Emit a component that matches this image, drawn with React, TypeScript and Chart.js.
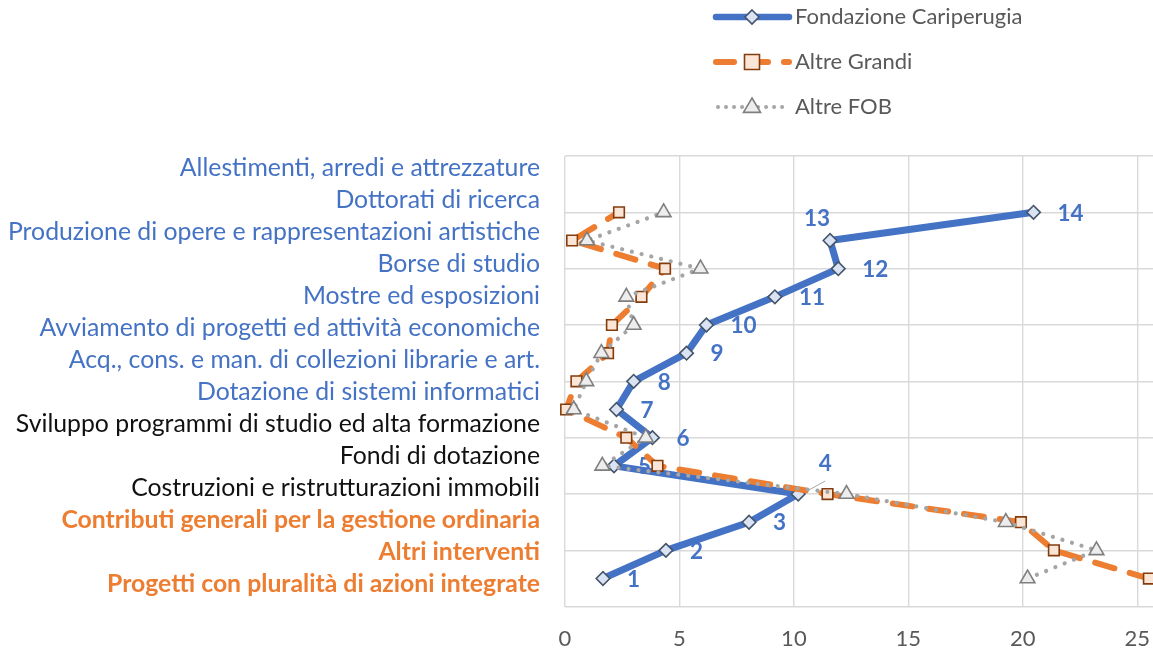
import React, { useEffect, useRef } from "react";
import { Chart, registerables } from "chart.js";

Chart.register(...registerables);

// Rank positions on the vertical axis (1 = bottom, 14 = top)
const ranks = [1, 2, 3, 4, 5, 6, 7, 8, 9, 10, 11, 12, 13, 14];

// Intervention categories, listed from rank 1 upward
const categories = [
  "Progetti con pluralità di azioni integrate",
  "Altri interventi",
  "Contributi generali per la gestione ordinaria",
  "Costruzioni e ristrutturazioni immobili",
  "Fondi di dotazione",
  "Sviluppo programmi di studio ed alta formazione",
  "Dotazione di sistemi informatici",
  "Acq., cons. e man. di collezioni librarie e art.",
  "Avviamento di progetti ed attività economiche",
  "Mostre ed esposizioni",
  "Borse di studio",
  "Produzione di opere e rappresentazioni artistiche",
  "Dottorati di ricerca",
  "Allestimenti, arredi e attrezzature",
];

// Share of resources (%) per category, same order as categories
const cariperugia = [1.66, 4.41, 8.04, 10.19, 2.14, 3.82, 2.25, 3.0, 5.31, 6.18, 9.17, 11.94, 11.58, 20.47];
const altreGrandi = [25.51, 21.36, 19.92, 11.47, 4.04, 2.68, 0.05, 0.5, 1.88, 2.05, 3.34, 4.37, 0.31, 2.36];
const altreFob = [20.21, 23.22, 19.26, 12.3, 1.63, 3.53, 0.38, 0.93, 1.59, 3.0, 2.68, 5.92, 0.96, 4.31];

const seriesNames = ["Fondazione Cariperugia", "Altre Grandi", "Altre FOB"];
const xTicks = [0, 5, 10, 15, 20, 25];

const BLUE = "#4472C4";
const ORANGE = "#ED7D31";
const GRAY = "#A5A5A5";
const FONT = "Lato, Calibri, 'Open Sans', sans-serif";

// Text colour of each category line in the side list (rank 1 upward)
const categoryStyle = (i: number) =>
  i < 3 ? { color: ORANGE, weight: "bold" } : i < 6 ? { color: "#111111", weight: "normal" } : { color: BLUE, weight: "normal" };

type Marker = "diamond" | "square" | "triangle";

function drawMarker(ctx: CanvasRenderingContext2D, kind: Marker, x: number, y: number) {
  ctx.save();
  ctx.beginPath();
  ctx.setLineDash([]);
  if (kind === "diamond") {
    const r = 7;
    ctx.moveTo(x, y - r);
    ctx.lineTo(x + r, y);
    ctx.lineTo(x, y + r);
    ctx.lineTo(x - r, y);
    ctx.closePath();
    ctx.fillStyle = "#DAE3F3";
    ctx.strokeStyle = "#44546A";
  } else if (kind === "square") {
    const h = 7.5;
    ctx.rect(x - h, y - h, 2 * h, 2 * h);
    ctx.fillStyle = "#FBE5D6";
    ctx.strokeStyle = "#843C0C";
  } else {
    const r = 9;
    ctx.moveTo(x, y - r);
    ctx.lineTo(x + r * 0.95, y + r * 0.6);
    ctx.lineTo(x - r * 0.95, y + r * 0.6);
    ctx.closePath();
    ctx.fillStyle = "#EDEDED";
    ctx.strokeStyle = "#7F7F7F";
  }
  ctx.lineWidth = 1.6;
  ctx.fill();
  ctx.stroke();
  ctx.restore();
}

// Rank numbers beside the Cariperugia points, drawn under the other two series
const rankLabelPlugin = {
  id: "rankLabels",
  afterDatasetDraw(chart: any, args: any) {
    if (args.index !== 0) return;
    const ctx: CanvasRenderingContext2D = chart.ctx;
    ctx.save();
    ctx.font = `bold 22.5px ${FONT}`;
    ctx.fillStyle = BLUE;
    ctx.textBaseline = "middle";
    args.meta.data.forEach((pt: any, i: number) => {
      const text = String(ranks[i]);
      if (ranks[i] === 13) {
        ctx.textAlign = "center";
        ctx.fillText(text, pt.x - 13, pt.y - 22);
      } else if (ranks[i] === 4) {
        ctx.textAlign = "center";
        ctx.fillText(text, pt.x + 27, pt.y - 30);
        ctx.beginPath();
        ctx.strokeStyle = "#A6A6A6";
        ctx.lineWidth = 1;
        ctx.moveTo(pt.x + 7, pt.y - 2);
        ctx.lineTo(pt.x + 27, pt.y - 13);
        ctx.stroke();
      } else {
        ctx.textAlign = "left";
        ctx.fillText(text, pt.x + 24, pt.y + 1);
      }
    });
    ctx.restore();
  },
};

// Category list on the left and legend at the top right
const decorPlugin = {
  id: "decor",
  afterDraw(chart: any) {
    const ctx: CanvasRenderingContext2D = chart.ctx;
    ctx.save();
    ctx.textAlign = "right";
    ctx.textBaseline = "middle";
    categories.forEach((name, i) => {
      const st = categoryStyle(i);
      ctx.font = `${st.weight} 24.8px ${FONT}`;
      ctx.fillStyle = st.color;
      ctx.fillText(name, 540, 584 - i * 32);
    });

    const rows = [17, 62, 107];
    const x0 = 716;
    const x1 = 789;
    const xm = 752;
    rows.forEach((y, i) => {
      ctx.save();
      ctx.beginPath();
      ctx.lineCap = "round";
      if (i === 0) {
        ctx.strokeStyle = BLUE;
        ctx.lineWidth = 6.5;
        ctx.setLineDash([]);
      } else if (i === 1) {
        ctx.strokeStyle = ORANGE;
        ctx.lineWidth = 6;
        ctx.setLineDash([18, 16]);
      } else {
        ctx.strokeStyle = GRAY;
        ctx.lineWidth = 4;
        ctx.setLineDash([0.01, 8]);
      }
      ctx.moveTo(i === 2 ? x0 + 2 : x0, y);
      ctx.lineTo(x1, y);
      ctx.stroke();
      ctx.restore();
      drawMarker(ctx, (["diamond", "square", "triangle"] as Marker[])[i], xm, y);
      ctx.font = `22px ${FONT}`;
      ctx.fillStyle = "#595959";
      ctx.textAlign = "left";
      ctx.textBaseline = "middle";
      ctx.fillText(seriesNames[i], 795, y);
    });
    ctx.restore();
  },
};

const toPoints = (vals: number[]) => vals.map((v, i) => ({ x: v, y: ranks[i] }));

export default function App() {
  const canvasRef = useRef<HTMLCanvasElement | null>(null);

  useEffect(() => {
    const canvas = canvasRef.current;
    if (!canvas) return;
    const chart = new Chart(canvas, {
      type: "scatter",
      data: {
        datasets: [
          {
            label: seriesNames[0],
            data: toPoints(cariperugia),
            showLine: true,
            borderColor: BLUE,
            borderWidth: 7,
            borderJoinStyle: "round",
            borderCapStyle: "round",
            pointStyle: "rectRot",
            pointRadius: 6.8,
            pointBackgroundColor: "#DAE3F3",
            pointBorderColor: "#44546A",
            pointBorderWidth: 1.6,
            order: 2,
            clip: false,
          },
          {
            label: seriesNames[1],
            data: toPoints(altreGrandi),
            showLine: true,
            borderColor: ORANGE,
            borderWidth: 6,
            borderDash: [20, 16],
            borderJoinStyle: "round",
            borderCapStyle: "round",
            pointStyle: "rect",
            pointRadius: 7.5,
            pointBackgroundColor: "#FBE5D6",
            pointBorderColor: "#843C0C",
            pointBorderWidth: 1.6,
            order: 1,
            clip: false,
          },
          {
            label: seriesNames[2],
            data: toPoints(altreFob),
            showLine: true,
            borderColor: GRAY,
            borderWidth: 4.2,
            borderDash: [0.01, 10],
            borderJoinStyle: "round",
            borderCapStyle: "round",
            pointStyle: "triangle",
            pointRadius: 8.5,
            pointBackgroundColor: "#EDEDED",
            pointBorderColor: "#7F7F7F",
            pointBorderWidth: 1.6,
            order: 0,
            clip: false,
          },
        ],
      } as any,
      options: {
        animation: false,
        responsive: false,
        maintainAspectRatio: false,
        layout: { autoPadding: false, padding: { left: 565, top: 156, right: 0, bottom: 0 } },
        scales: {
          x: {
            type: "linear",
            min: 0,
            max: 25.69,
            afterBuildTicks: (axis: any) => {
              axis.ticks = xTicks.map((v) => ({ value: v }));
            },
            afterFit: (axis: any) => {
              axis.height = 41.3;
              axis.paddingLeft = 0;
              axis.paddingRight = 0;
            },
            grid: { color: "#D9D9D9", lineWidth: 1.4, drawTicks: false },
            border: { display: false },
            ticks: {
              padding: 19,
              color: "#595959",
              font: { family: FONT, size: 22 },
              maxRotation: 0,
            },
          },
          y: {
            type: "linear",
            min: 0,
            max: 16,
            afterFit: (axis: any) => {
              axis.width = 0;
              axis.paddingTop = 0;
              axis.paddingBottom = 0;
            },
            grid: { color: "#D9D9D9", lineWidth: 1.4, drawTicks: false },
            border: { display: false },
            ticks: { display: false, stepSize: 2 },
          },
        },
        plugins: {
          legend: { display: false },
          tooltip: { enabled: false },
        },
      } as any,
      plugins: [rankLabelPlugin, decorPlugin],
    });
    return () => chart.destroy();
  }, []);

  return (
    <div style={{ position: "fixed", left: 0, top: 0, width: 1153, height: 648, background: "#ffffff" }}>
      <canvas ref={canvasRef} width={1153} height={648} style={{ display: "block" }} />
    </div>
  );
}
